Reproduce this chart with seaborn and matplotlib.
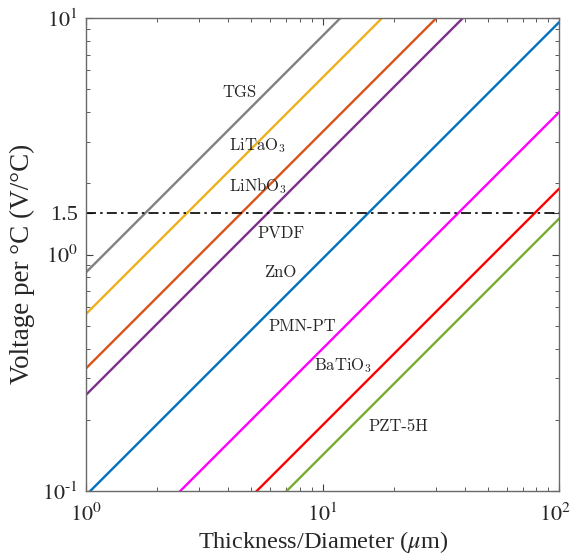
import numpy as np
import pandas as pd
import matplotlib
matplotlib.use("Agg")
import matplotlib.pyplot as plt
import matplotlib.transforms as mtransforms
import seaborn as sns
from matplotlib.ticker import LogLocator, NullFormatter

# voltage per degree C at 1 um and 100 um thickness
materials = ["TGS", "LiTaO$_3$", "LiNbO$_3$", "PVDF", "ZnO",
             "PMN-PT", "BaTiO$_3$", "PZT-5H"]
v_at_1um = [0.84, 0.56, 0.33, 0.255, 0.096, 0.040, 0.019, 0.0142]
v_at_100um = [84.0, 56.0, 33.0, 25.5, 9.6, 4.0, 1.9, 1.42]
thickness = [1.0, 100.0]
colors = ["#808080", "#EDB120", "#D95319", "#7E2F8E", "#0072BD",
          "#FF00FF", "#FF0000", "#77AC30"]

# label anchor points (data coords)
label_x = [3.76, 4.02, 4.02, 5.29, 5.66, 5.88, 9.2, 15.7]
label_y = [4.87, 2.90, 1.95, 1.23, 0.843, 0.499, 0.338, 0.188]

threshold = 1.5

rows = []
for m, a, b in zip(materials, v_at_1um, v_at_100um):
    rows.append({"material": m, "t": thickness[0], "v": a})
    rows.append({"material": m, "t": thickness[1], "v": b})
df = pd.DataFrame(rows)

sns.set_style("ticks")
plt.rcParams["font.family"] = ["Liberation Serif", "DejaVu Serif"]
plt.rcParams["mathtext.fontset"] = "stix"

fig = plt.figure(figsize=(5.73, 5.6), dpi=100)
ax = fig.add_axes([0.150, 0.123, 0.826, 0.845])

sns.lineplot(data=df, x="t", y="v", hue="material", hue_order=materials,
             palette=colors, linewidth=1.7, legend=False, ax=ax)
ax.axhline(threshold, color="black", linestyle=(0, (6, 2.5, 1.5, 2.5)), linewidth=1.2)

ax.set_xscale("log")
ax.set_yscale("log")
ax.set_xlim(1, 100)
ax.set_ylim(0.1, 10)

ax.set_xticks([1, 10, 100])
ax.set_xticklabels(["$10^{0}$", "$10^{1}$", "$10^{2}$"])
ax.set_yticks([0.1, 1, threshold, 10])
ax.set_yticklabels(["$10^{\u2010 1}$", "$10^{0}$", "1.5", "$10^{1}$"])
ax.xaxis.set_minor_locator(LogLocator(base=10, subs=np.arange(2, 10)))
ax.yaxis.set_minor_locator(LogLocator(base=10, subs=np.arange(2, 10)))
ax.xaxis.set_minor_formatter(NullFormatter())
ax.yaxis.set_minor_formatter(NullFormatter())

ax.tick_params(which="both", direction="in", top=True, right=True,
               colors="#404040", labelcolor="#262626")
ax.tick_params(which="major", length=5, width=0.8, labelsize=16)
ax.tick_params(which="minor", length=3, width=0.6)
ax.tick_params(axis="x", which="major", pad=9)
ax.tick_params(axis="y", which="major", pad=6)
for s in ax.spines.values():
    s.set_color("#6a6a6a")
    s.set_linewidth(1.0)

# keep the last x tick label inside the canvas
last = ax.get_xticklabels()[-1]
last.set_transform(last.get_transform() +
                   mtransforms.ScaledTranslation(-4 / 100, 0, fig.dpi_scale_trans))

ax.set_xlabel("Thickness/Diameter ($\\mu$m)", fontsize=17.5, color="#262626",
              labelpad=2)
ax.set_ylabel("Voltage per \u00b0C (V/\u00b0C)", fontsize=19.5, color="#262626")
ax.yaxis.set_label_coords(-0.108, 0.48)

for name, lx, ly in zip(materials, label_x, label_y):
    ax.text(lx, ly, name, fontsize=12, ha="left", va="center",
            family="cmr10", math_fontfamily="cm", color="#262626")

fig.savefig("out.png", dpi=100)
